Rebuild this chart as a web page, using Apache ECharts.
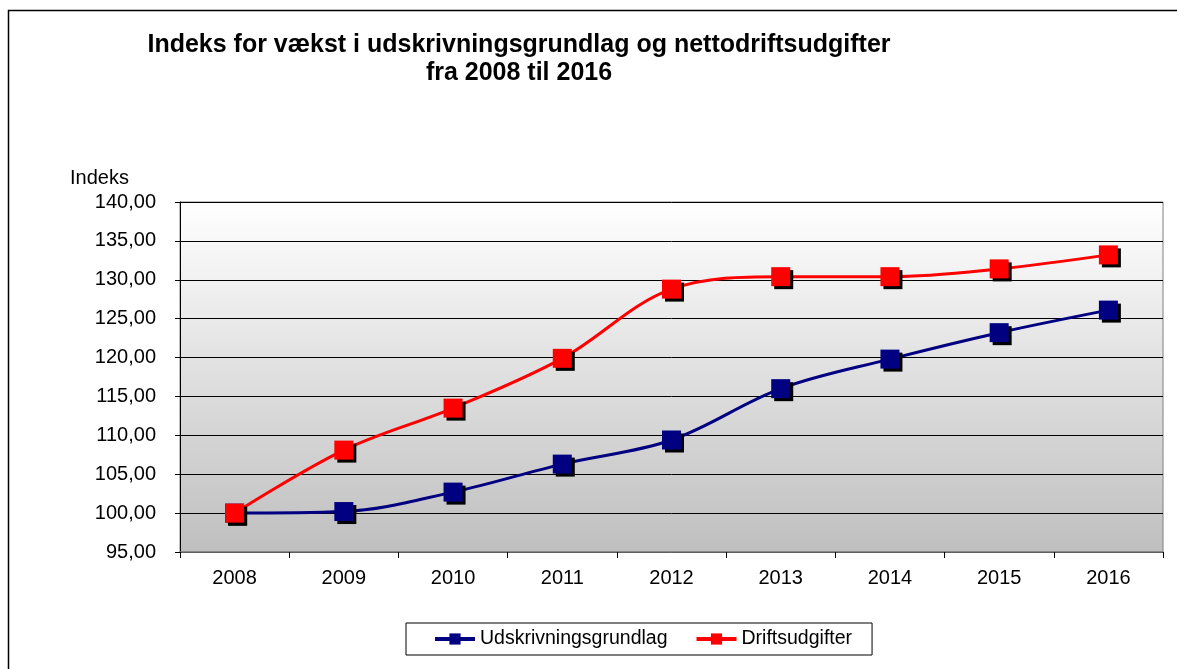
<!DOCTYPE html>
<html>
<head>
<meta charset="utf-8">
<script src="https://cdn.jsdelivr.net/npm/echarts@6/dist/echarts.min.js"></script>
<style>
html,body{margin:0;padding:0;background:#fff;}
#c{width:1177px;height:669px;}
</style>
</head>
<body>
<div id="c"></div>
<script>
const titleLines = ['Indeks for vækst i udskrivningsgrundlag og nettodriftsudgifter', 'fra 2008 til 2016'];
const yAxisName = 'Indeks';
const years = ['2008','2009','2010','2011','2012','2013','2014','2015','2016'];
const udskrivning = [100.0, 100.2, 102.7, 106.3, 109.4, 116.0, 119.8, 123.2, 126.1];
const drift = [100.0, 108.1, 113.5, 119.9, 128.8, 130.4, 130.4, 131.4, 133.2];
const seriesNames = ['Udskrivningsgrundlag', 'Driftsudgifter'];
const yMin = 95, yMax = 140, yStep = 5;

const font = 'Liberation Sans, Arial, sans-serif';
const chart = echarts.init(document.getElementById('c'), null, {renderer:'canvas'});

function mk(name, data, color){
  return {
    name, type:'line', data, smooth:0.35,
    symbol:'rect', symbolSize:19,
    lineStyle:{color, width:3},
    itemStyle:{color, shadowColor:'#000', shadowOffsetX:3, shadowOffsetY:3, shadowBlur:0},
    emphasis:{disabled:true},
    z: name === seriesNames[1] ? 3 : 2
  };
}

chart.setOption({
  animation:false,
  textStyle:{fontFamily:font},
  graphic:[
    {type:'rect', shape:{x:8.5,y:10.5,width:1200,height:700}, style:{fill:'none', stroke:'#000', lineWidth:1.5}, silent:true, z:-10},
    {type:'text', x:519, y:45, style:{text:titleLines[0], font:'bold 25px '+font, fill:'#000', align:'center', verticalAlign:'middle'}},
    {type:'text', x:519, y:73, style:{text:titleLines[1], font:'bold 25px '+font, fill:'#000', align:'center', verticalAlign:'middle'}},
    {type:'text', x:70, y:178, style:{text:yAxisName, font:'20px '+font, fill:'#000', align:'left', verticalAlign:'middle'}}
  ],
  legend:{
    left:406, top:623,
    borderColor:'#000', borderWidth:1,
    padding:[6, 20, 6, 27],
    itemGap:27, itemWidth:40, itemHeight:14,
    lineStyle:{width:4},
    textStyle:{fontFamily:font, fontSize:19.5, color:'#000'},
    data:seriesNames
  },
  grid:{left:180, right:14, top:202, bottom:117, show:true,
    borderColor:'#808080', borderWidth:1,
    backgroundColor:{type:'linear', x:0, y:0, x2:0, y2:1,
      colorStops:[{offset:0,color:'#ffffff'},{offset:1,color:'#bfbfbf'}]}
  },
  xAxis:{
    type:'category', data:years, boundaryGap:true,
    axisLine:{lineStyle:{color:'#808080', width:1.5}},
    axisTick:{show:true, length:6, lineStyle:{color:'#000'}},
    axisLabel:{fontSize:20, color:'#000', margin:16, fontFamily:font}
  },
  yAxis:{
    type:'value', min:yMin, max:yMax, interval:yStep,
    axisLine:{show:true, lineStyle:{color:'#000', width:1}},
    axisTick:{show:true, length:5, lineStyle:{color:'#000'}},
    splitLine:{lineStyle:{color:'#000', width:1}},
    axisLabel:{fontSize:20, color:'#000', margin:24, fontFamily:font,
      formatter:v=>v.toFixed(2).replace('.',',')}
  },
  series:[mk(seriesNames[0], udskrivning, '#000080'), mk(seriesNames[1], drift, '#ff0000')]
});
</script>
</body>
</html>
